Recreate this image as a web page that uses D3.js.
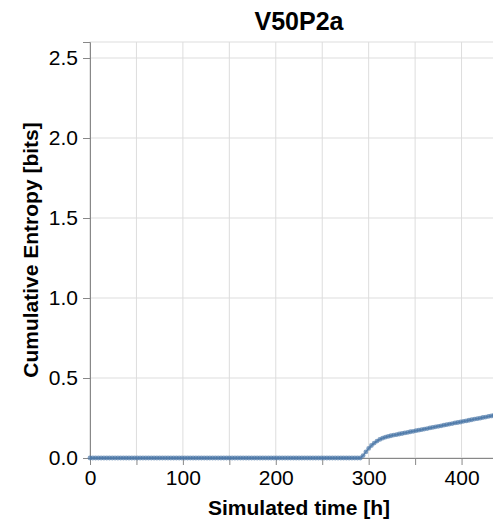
<!DOCTYPE html>
<html>
<head>
<meta charset="utf-8">
<script src="https://cdn.jsdelivr.net/npm/d3@7"></script>
<style>
  body { margin: 0; overflow: hidden; background: #fff; }
  text { font-family: "Liberation Sans", Arial, sans-serif; }
</style>
</head>
<body>
<svg id="chart" width="540" height="523"></svg>
<script>

var chartTitle = "V50P2a";
var xTitle = "Simulated time [h]";
var yTitle = "Cumulative Entropy [bits]";

var xTicks = [0, 50, 100, 150, 200, 250, 300, 350, 400, 450];
var yTicks = [0, 0.5, 1.0, 1.5, 2.0, 2.5];

var times = [
  0, 3, 6, 9, 12, 15, 18, 21, 24, 27,
  30, 33, 36, 39, 42, 45, 48, 51, 54, 57,
  60, 63, 66, 69, 72, 75, 78, 81, 84, 87,
  90, 93, 96, 99, 102, 105, 108, 111, 114, 117,
  120, 123, 126, 129, 132, 135, 138, 141, 144, 147,
  150, 153, 156, 159, 162, 165, 168, 171, 174, 177,
  180, 183, 186, 189, 192, 195, 198, 201, 204, 207,
  210, 213, 216, 219, 222, 225, 228, 231, 234, 237,
  240, 243, 246, 249, 252, 255, 258, 261, 264, 267,
  270, 273, 276, 279, 282, 285, 288, 291,
  294, 297, 300, 303, 306, 309, 312, 315, 318, 321,
  324, 327, 330, 333, 336, 339, 342, 345, 348, 351,
  354, 357, 360, 363, 366, 369, 372, 375, 378, 381,
  384, 387, 390, 393, 396, 399, 402, 405, 408, 411,
  414, 417, 420, 423, 426, 429, 432, 435, 438, 441,
  444, 447
];

var entropy = [
  0, 0, 0, 0, 0, 0, 0, 0, 0, 0,
  0, 0, 0, 0, 0, 0, 0, 0, 0, 0,
  0, 0, 0, 0, 0, 0, 0, 0, 0, 0,
  0, 0, 0, 0, 0, 0, 0, 0, 0, 0,
  0, 0, 0, 0, 0, 0, 0, 0, 0, 0,
  0, 0, 0, 0, 0, 0, 0, 0, 0, 0,
  0, 0, 0, 0, 0, 0, 0, 0, 0, 0,
  0, 0, 0, 0, 0, 0, 0, 0, 0, 0,
  0, 0, 0, 0, 0, 0, 0, 0, 0, 0,
  0, 0, 0, 0, 0, 0, 0, 0,
  0.015, 0.038, 0.060, 0.078, 0.093, 0.106, 0.116, 0.124, 0.130, 0.135,
  0.139, 0.143, 0.146, 0.150, 0.153, 0.157, 0.160, 0.164, 0.167, 0.171,
  0.174, 0.177, 0.181, 0.184, 0.188, 0.191, 0.195, 0.198, 0.201, 0.205,
  0.208, 0.212, 0.215, 0.219, 0.222, 0.225, 0.229, 0.232, 0.236, 0.239,
  0.243, 0.246, 0.249, 0.253, 0.256, 0.260, 0.263, 0.267, 0.270, 0.273,
  0.277, 0.280
];

var svg = d3.select("#chart");

var margin = {left: 90, top: 42},
    width = 418,
    height = 416;

var data = times.map(function(t, i) { return {t: t, v: entropy[i]}; });

var x = d3.scaleLinear().domain([0, 450]).range([0, width]);
var y = d3.scaleLinear().domain([0, 2.6]).range([height, 0]);

var g = svg.append("g")
    .attr("transform", "translate(" + margin.left + "," + margin.top + ")");

// view frame
g.append("rect")
    .attr("width", width)
    .attr("height", height)
    .attr("fill", "none")
    .attr("stroke", "#ddd");

// grid
g.append("g").selectAll("line")
    .data(xTicks)
  .enter().append("line")
    .attr("x1", function(d) { return x(d); })
    .attr("x2", function(d) { return x(d); })
    .attr("y1", 0)
    .attr("y2", height)
    .attr("stroke", "#ddd");

g.append("g").selectAll("line")
    .data(yTicks)
  .enter().append("line")
    .attr("x1", 0)
    .attr("x2", width)
    .attr("y1", function(d) { return y(d); })
    .attr("y2", function(d) { return y(d); })
    .attr("stroke", "#ddd");

// axes
var xAxis = g.append("g")
    .attr("transform", "translate(0," + height + ")")
    .call(d3.axisBottom(x)
      .tickValues(xTicks)
      .tickSize(7)
      .tickPadding(5)
      .tickFormat(function(d) { return d % 100 === 0 ? d : ""; }));

var yAxis = g.append("g")
    .call(d3.axisLeft(y)
      .tickValues(yTicks)
      .tickSize(7)
      .tickPadding(5)
      .tickFormat(d3.format(".1f")));

[xAxis, yAxis].forEach(function(a) {
  a.selectAll("path, line").attr("stroke", "#888");
  a.selectAll("text")
    .attr("font-family", "Liberation Sans, Arial, sans-serif")
    .attr("font-size", "21px")
    .attr("fill", "#000");
});
xAxis.selectAll("text").attr("dy", "0.72em");

// line + points
g.append("path")
    .datum(data)
    .attr("fill", "none")
    .attr("stroke", "#4c78a8")
    .attr("stroke-opacity", 0.8)
    .attr("stroke-width", 1.5)
    .attr("d", d3.line()
      .x(function(d) { return x(d.t); })
      .y(function(d) { return y(d.v); }));

g.append("g").selectAll("circle")
    .data(data)
  .enter().append("circle")
    .attr("cx", function(d) { return x(d.t); })
    .attr("cy", function(d) { return y(d.v); })
    .attr("r", 2.4)
    .attr("fill", "#4c78a8")
    .attr("fill-opacity", 0.7);

// titles
svg.append("text")
    .attr("x", margin.left + width / 2)
    .attr("y", 30)
    .attr("text-anchor", "middle")
    .attr("font-size", "25px")
    .attr("font-weight", "bold")
    .text(chartTitle);

svg.append("text")
    .attr("x", margin.left + width / 2)
    .attr("y", 515)
    .attr("text-anchor", "middle")
    .attr("font-size", "21px")
    .attr("font-weight", "bold")
    .text(xTitle);

svg.append("text")
    .attr("transform", "translate(38," + (margin.top + height / 2) + ") rotate(-90)")
    .attr("text-anchor", "middle")
    .attr("font-size", "21px")
    .attr("font-weight", "bold")
    .text(yTitle);

</script>
</body>
</html>
